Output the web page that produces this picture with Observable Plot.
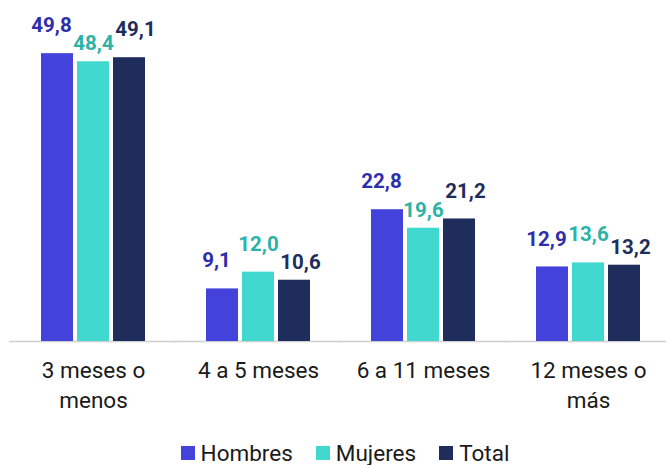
<!DOCTYPE html>
<html>
<head>
<meta charset="utf-8">
<script src="https://cdn.jsdelivr.net/npm/d3@7"></script>
<script src="https://cdn.jsdelivr.net/npm/@observablehq/plot@0.6"></script>
<style>
  html, body { margin: 0; padding: 0; background: #fff; }
  #chart { width: 666px; }
  g[aria-label="value-label"] text { letter-spacing: 1.2px; }
  .legend { display: flex; justify-content: center; align-items: center; height: 28px; line-height: 28px; margin-top: 11px; padding-left: 24px;
            font-family: Roboto, "DejaVu Sans", sans-serif; font-size: 22.5px; color: #1a1a1a; }
  .legend .item { display: flex; align-items: center; margin: 0 11.5px; }
  .legend .sw { width: 14px; height: 14px; margin-right: 6px; }
</style>
</head>
<body>
<div id="chart"></div>
<script>
const categories = ["3 meses o menos", "4 a 5 meses", "6 a 11 meses", "12 meses o más"];
const tickLabels = ["3 meses o\nmenos", "4 a 5 meses", "6 a 11 meses", "12 meses o\nmás"];
const series = ["Hombres", "Mujeres", "Total"];
const hombres = [49.8, 9.1, 22.8, 12.9];
const mujeres = [48.4, 12.0, 19.6, 13.6];
const total = [49.1, 10.6, 21.2, 13.2];

const barColors = ["#4343DB", "#41D9CF", "#1E2D5B"];
const labelColors = ["#2E2EAD", "#2BB3A8", "#1E2D5B"];

const values = [hombres, mujeres, total];
const data = [];
categories.forEach((c, i) => {
  series.forEach((s, j) => data.push({cat: c, serie: s, value: values[j][i], ci: i, si: j}));
});
// label staggering rule (to avoid overlaps like the original)
const mujMax = i => mujeres[i] >= hombres[i] && mujeres[i] >= total[i];
const isHigh = d => d.si === 0 ? true : d.si === 1 ? mujMax(d.ci) : !mujMax(d.ci);
const fmt = v => v.toFixed(1).replace(".", ",");
const tickMap = new Map(categories.map((c, i) => [c, tickLabels[i]]));

const labelMarks = [];
[0, 1, 2].forEach(si => {
  [true, false].forEach(high => {
    labelMarks.push(Plot.text(data, {
      filter: d => d.si === si && isHigh(d) === high,
      fx: "cat", x: "serie", y: "value",
      text: d => fmt(d.value),
      dy: high ? -28 : -18,
      dx: si === 0 ? -6 : si === 2 ? 6 : 0,
      fill: labelColors[si],
      fontSize: 20.5, fontWeight: "bold",
      fontFamily: "Roboto, 'DejaVu Sans', sans-serif",
      lineAnchor: "middle",
      ariaLabel: "value-label"
    }));
  });
});

const chart = Plot.plot({
  width: 666,
  height: 428,
  marginLeft: 10,
  marginRight: -4,
  marginTop: 52,
  marginBottom: 87,
  style: {fontFamily: "Roboto, 'DejaVu Sans', sans-serif", background: "#fff"},
  fx: {domain: categories, paddingInner: 0.36, paddingOuter: 0.18, label: null},
  x: {domain: series, paddingInner: 0.1, paddingOuter: 0, axis: null},
  y: {domain: [0, 50], axis: null},
  color: {domain: series, range: barColors},
  marks: [
    Plot.ruleY([0], {stroke: "#cfcfcf", strokeWidth: 1.5, insetLeft: -31, insetRight: -31}),
    Plot.barY(data, {fx: "cat", x: "serie", y: "value", fill: "serie"}),
    ...labelMarks,
    Plot.axisFx({
      anchor: "bottom", tickSize: 0, tickPadding: 15, label: null,
      tickFormat: d => tickMap.get(d),
      fontSize: 22.5, lineHeight: 1.33, fill: "#1a1a1a"
    })
  ]
});
document.getElementById("chart").appendChild(chart);

const legend = document.createElement("div");
legend.className = "legend";
series.forEach((s, i) => {
  const item = document.createElement("div");
  item.className = "item";
  const sw = document.createElement("span");
  sw.className = "sw";
  sw.style.background = barColors[i];
  const t = document.createElement("span");
  t.textContent = s;
  item.appendChild(sw); item.appendChild(t);
  legend.appendChild(item);
});
document.getElementById("chart").appendChild(legend);
</script>
</body>
</html>
